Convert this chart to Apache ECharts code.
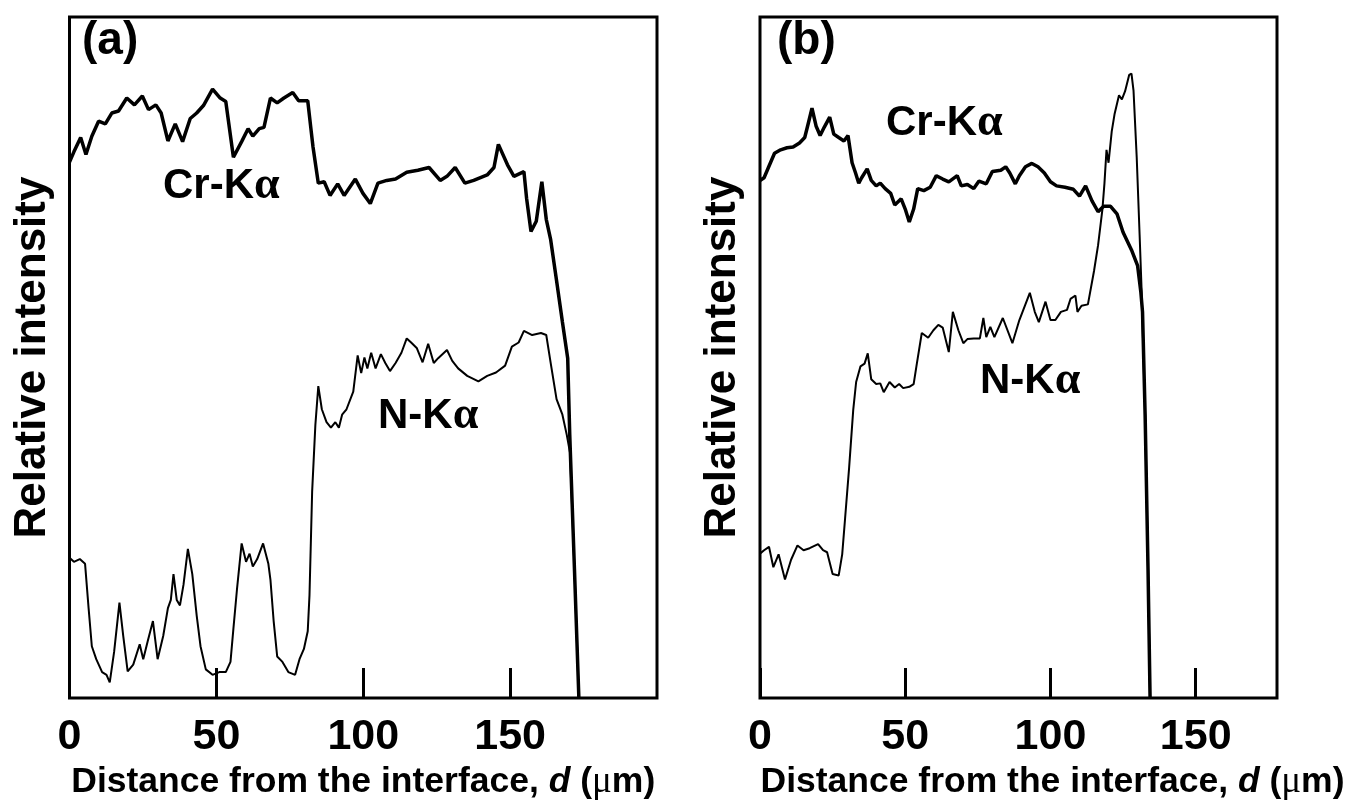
<!DOCTYPE html>
<html>
<head>
<meta charset="utf-8">
<script src="https://cdn.jsdelivr.net/npm/echarts@6/dist/echarts.min.js"></script>
<style>
html,body{margin:0;padding:0;background:#fff;}
#chart{width:1348px;height:810px;}
</style>
</head>
<body>
<div id="chart"></div>
<script>
// ---- data (distance in µm, relative intensity in arbitrary 0-100 units) ----
var xTicks = [0, 50, 100, 150];

var crA = [[0,78.7],[1.5,80.2],[3.8,82.3],[5.6,79.8],[7.6,82.5],[9.9,84.7],[12.2,84.3],[14.4,85.9],[16.7,86.2],[19.5,88.1],[22.1,87.1],[24.8,88.4],[26.9,86.4],[29.4,87.1],[31.2,85.9],[33.5,81.8],[36,84.3],[38.5,81.7],[41.1,85.1],[43.3,85.9],[45.6,87],[48.7,89.4],[51.3,88.1],[53.2,87.6],[55.8,79.4],[58.6,81.7],[60.8,83.6],[62.4,82.5],[64.6,83.6],[66.2,83.8],[68.4,88.1],[70.7,87.4],[73,88.1],[76,88.9],[78,87.7],[81.1,87.7],[82.1,83.9],[82.9,80.9],[84.7,75.6],[86.7,75.8],[88.7,73.8],[91.3,75.5],[93.5,73.8],[97.3,76.2],[99.9,74.1],[102.4,72.6],[105,75.6],[108,76],[111,76.2],[114.8,77.2],[118.6,77.5],[122.4,77.9],[126.2,76],[128.5,76.6],[131.3,77.9],[134.6,75.6],[137.6,76],[142.2,76.8],[144.5,77.9],[146,81.3],[149.1,78.3],[151.3,76.6],[154.7,77.3],[155.6,73.4],[157.1,68.5],[158.9,70],[160.8,75.8],[162.3,70.3],[163.8,67.3],[165.8,61.3],[167.8,55.2],[169.6,49.9],[170.3,38.6],[171.9,18.9],[173.4,0]];

var nA = [[0,20.6],[1.5,20],[3.5,20.4],[5.3,19.7],[6.5,13.2],[7.6,7.6],[9.1,5.7],[11.1,3.8],[12.6,3.4],[13.7,2.3],[15.2,6.8],[17,14],[18.3,9.1],[19.8,3.9],[21.7,4.9],[23.9,7.9],[25.1,5.7],[26.6,8.3],[28.4,11.3],[30,5.7],[31.9,9.1],[33.5,13.2],[34.5,14.4],[35.4,18.2],[36.5,14.4],[37.6,13.6],[38.8,16.6],[40.3,21.9],[41.8,18.2],[43.3,12.1],[44.6,7.6],[46.4,4.2],[48.7,3.4],[51,3.8],[53.2,3.8],[54.8,5.3],[55.8,10.2],[57,15.9],[58.6,22.7],[60.1,20],[61.3,21.2],[62.4,19.3],[63.9,20.4],[65.9,22.7],[67.7,19.7],[68.4,17.4],[69.5,11.3],[70.7,6.1],[72.5,5.3],[74.5,3.8],[76.8,3.4],[78.3,5.7],[79.8,7.2],[81.1,9.8],[81.7,15.1],[82.6,30.3],[83.7,40.1],[84.7,45.8],[85.9,42.4],[87.5,40.5],[89,39.7],[90.5,40.5],[91.7,39.7],[92.8,41.6],[94.3,42.4],[96.6,45],[98.1,50.3],[99.3,47.7],[100.4,50],[101.4,48.4],[102.7,50.7],[104.2,48.4],[106,50.5],[107.5,49.2],[109.1,48],[111,49.2],[113,50.7],[114.8,52.8],[116.3,52.2],[118.2,51.4],[120.2,49.3],[122.1,52],[124,49.2],[125.5,49.9],[128.5,51.1],[130.3,49.5],[132.3,48.4],[135.4,47.3],[139.2,46.5],[142.2,47.3],[145.2,47.8],[148.3,48.8],[150.6,51.6],[152.9,52.2],[154.7,53.9],[157.5,53.3],[160.5,53.6],[162.3,53.3],[163.8,49.2],[165.8,43.9],[167.8,41.6],[169.3,38.6],[170.4,36],[171.9,18.9],[173.4,0]];

var crB = [[0,76],[1.4,76.4],[2.9,77.9],[5,80],[7.1,80.5],[9.3,80.8],[11.4,80.9],[13.6,81.5],[15.4,82.3],[16.4,84],[17.9,86.6],[19.3,84],[20.7,82.6],[22.1,83.8],[24,85.3],[25.4,82.8],[27.1,82.3],[28.9,81.8],[30.3,82.6],[31.7,78.6],[32.9,77.1],[34,75.6],[35,76.4],[36.9,77.7],[38.3,76],[40,75.2],[41.4,75.6],[43.1,74.8],[45,74.1],[46.4,72.4],[48.6,73.3],[50,71.8],[51.4,69.9],[52.9,71.8],[54.3,74.8],[56.4,74.5],[58.6,75],[60.7,76.7],[62.9,76.2],[65,75.8],[67.9,76.7],[69.3,75.2],[71.4,75.4],[73.6,74.8],[75.4,75.9],[77.9,75.5],[80,77.3],[82.9,77.5],[84.6,78],[86,77.1],[87.9,75.5],[89.3,76.7],[91.4,78],[93.6,78.5],[95.7,78],[97.9,77.1],[100,75.8],[102.1,75.2],[105,75],[107.9,74.7],[110,73.7],[112.1,75.2],[114.3,73],[116.4,71.4],[118.3,72.2],[120.7,72.2],[122.9,71.1],[125,68.4],[127.9,65.8],[130,63.5],[131.1,59.7],[131.7,56.7],[132.6,41.5],[133.6,18.8],[134.3,0]];

var nB = [[0,21.2],[1.4,21.7],[3.1,22.2],[4.6,19.2],[6.4,21.1],[8.6,17.4],[10.7,20.3],[12.9,22.4],[15,21.7],[17.1,22],[20,22.6],[21.7,21.7],[23.1,21.4],[25,18.2],[27.1,18],[28.3,21.1],[29.3,26.4],[30.7,33.9],[32.1,42.3],[33.1,46.4],[34.6,48.7],[36,49.1],[37.1,50.6],[38.3,46.8],[40,46.1],[41.4,46.2],[42.6,44.9],[44.6,46.4],[46.4,45.6],[47.9,46.1],[49.3,45.5],[51.4,45.7],[52.9,46.1],[54,49.1],[55.7,53.6],[57.9,52.9],[59.7,54],[61.4,54.8],[62.9,54.4],[65,50.8],[66.4,56.7],[68.3,54],[70,52.1],[71.4,52.7],[73.6,52.8],[75.7,52.8],[76.9,55.8],[77.9,53],[79.3,54.5],[80.7,53],[83.6,55.8],[86.9,52.1],[89.3,55.5],[92.9,59.5],[94.6,56.7],[96,55.2],[98.3,58.2],[100,55.5],[101.7,55.5],[103.6,56.7],[105.7,57],[106.9,58.6],[108.6,59.1],[109.3,56.7],[110.7,57.6],[112.9,57.8],[115,62.7],[116.4,66.5],[117.9,71.8],[118.6,75.6],[119.3,80.5],[120,78.6],[121.1,83.2],[122.1,85.8],[123.6,88.5],[124.6,87.9],[125.7,89.1],[127.1,91.5],[127.9,91.7],[128.6,89.2],[129.7,79.4],[130.7,68],[131.4,59.7],[132.6,41.5],[133.6,18.8],[134.3,0]];

// ---- chart ----
var chart = echarts.init(document.getElementById('chart'), null, {renderer: 'canvas'});
var SANS = 'Liberation Sans, Arial, Helvetica, sans-serif';
var SERIF = 'Liberation Serif, DejaVu Serif, serif';

function xAxisCfg(gi, maxV, padLeft) {
  return {
    gridIndex: gi, type: 'value', min: 0, max: maxV, interval: 50,
    axisLine: {show: false},
    axisTick: {show: true, inside: true, length: 30, lineStyle: {color: '#000', width: 3}},
    axisLabel: {
      show: true, showMaxLabel: false, margin: 18, color: '#000',
      fontSize: 43, fontWeight: 'bold', fontFamily: SANS,
      formatter: function (v) { return xTicks.indexOf(v) >= 0 ? String(v) : ''; }
    },
    splitLine: {show: false},
    name: '{n|Distance from the interface, }{i|d}{n| (}{g|\u03bc}{m|m)}',
    nameLocation: 'middle', nameGap: 66,
    nameTextStyle: {
      padding: [0, 0, 0, padLeft],
      rich: {
        n: {fontSize: 35.5, fontWeight: 'bold', fontFamily: SANS, color: '#000'},
        i: {fontSize: 35.5, fontWeight: 'bold', fontStyle: 'italic', fontFamily: SANS, color: '#000'},
        g: {fontSize: 37, fontFamily: SERIF, color: '#000'},
        m: {fontSize: 35.5, fontWeight: 'bold', fontFamily: SANS, color: '#000'}
      }
    }
  };
}
function yAxisCfg(gi) {
  return {
    gridIndex: gi, type: 'value', min: 0, max: 100,
    axisLine: {show: false}, axisTick: {show: false}, axisLabel: {show: false}, splitLine: {show: false},
    name: 'Relative intensity', nameLocation: 'middle', nameGap: 15,
    nameTextStyle: {fontSize: 44, fontWeight: 'bold', fontFamily: SANS, color: '#000'}
  };
}
function label(text, left, top) {
  return {
    text: text, left: left, top: top, padding: 0,
    textStyle: {
      rich: {
        b: {fontSize: 42, fontWeight: 'bold', fontFamily: SANS, color: '#000'},
        g: {fontSize: 46, fontFamily: SERIF, color: '#000'}
      }
    }
  };
}
function panelTag(text, left, top) {
  return {text: text, left: left, top: top, padding: 0,
    textStyle: {fontSize: 46, fontWeight: 'bold', fontFamily: SANS, color: '#000'}};
}

var gridBase = {top: 17, bottom: 112, show: true, borderColor: '#000', borderWidth: 3, containLabel: false, outerBoundsMode: 'none'};

var option = {
  backgroundColor: '#fff',
  animation: false,
  title: [
    panelTag('(a)', 82, 18),
    panelTag('(b)', 777, 18),
    label('{b|Cr-K}{g|\u03b1}', 163, 163),
    label('{b|N-K}{g|\u03b1}', 378, 393),
    label('{b|Cr-K}{g|\u03b1}', 886, 100),
    label('{b|N-K}{g|\u03b1}', 980, 358)
  ],
  grid: [
    Object.assign({left: 69.5, right: 691}, gridBase),
    Object.assign({left: 760, right: 71}, gridBase)
  ],
  xAxis: [xAxisCfg(0, 200, 0), xAxisCfg(1, 178, 68)],
  yAxis: [yAxisCfg(0), yAxisCfg(1)],
  series: [
    {name: 'Cr-K\u03b1 (a)', type: 'line', xAxisIndex: 0, yAxisIndex: 0, data: crA, symbol: 'none', lineStyle: {color: '#000', width: 3.5}, z: 3},
    {name: 'N-K\u03b1 (a)', type: 'line', xAxisIndex: 0, yAxisIndex: 0, data: nA, symbol: 'none', lineStyle: {color: '#000', width: 2}, z: 2},
    {name: 'Cr-K\u03b1 (b)', type: 'line', xAxisIndex: 1, yAxisIndex: 1, data: crB, symbol: 'none', lineStyle: {color: '#000', width: 3.5}, z: 3},
    {name: 'N-K\u03b1 (b)', type: 'line', xAxisIndex: 1, yAxisIndex: 1, data: nB, symbol: 'none', lineStyle: {color: '#000', width: 2}, z: 2}
  ]
};
chart.setOption(option);
</script>
</body>
</html>
